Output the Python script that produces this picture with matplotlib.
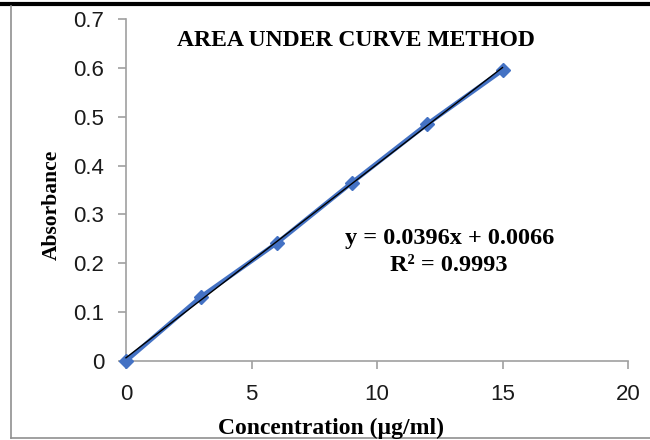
import matplotlib.pyplot as plt
from matplotlib.lines import Line2D
import numpy as np

# calibration data
conc = [0, 3, 6, 9, 12, 15]
absorb = [0.0, 0.132, 0.241, 0.365, 0.485, 0.595]
slope = 0.0396
intercept = 0.0066
xticks = [0, 5, 10, 15, 20]
yticks = [0, 0.1, 0.2, 0.3, 0.4, 0.5, 0.6, 0.7]

fig = plt.figure(figsize=(6.5, 4.4), dpi=100)
ax = fig.add_axes([126/650, 1 - 361/440, (628 - 126)/650, (361 - 19)/440])

# data line + markers
ax.plot(conc, absorb, color='#4472C4', lw=3.2, marker='D', ms=7,
        zorder=3, clip_on=False)
# linear trendline
xs = np.array([conc[0], conc[-1]])
ax.plot(xs, slope*xs + intercept, color='black', lw=1, zorder=4, clip_on=False)

ax.set_xlim(0, 20)
ax.set_ylim(0, 0.7)
ax.set_xticks(xticks)
ax.set_yticks(yticks)
ax.set_yticklabels(['0'] + ['%.1f' % v for v in yticks[1:]])

for s in ['top', 'right']:
    ax.spines[s].set_visible(False)
for s in ['left', 'bottom']:
    ax.spines[s].set_color('#A0A0A0')
    ax.spines[s].set_linewidth(1.2)
ax.tick_params(direction='out', length=5.5, width=1.2, color='#A0A0A0',
               labelsize=16, labelcolor='#1a1a1a')
ax.tick_params(axis='y', pad=10)
ax.tick_params(axis='x', pad=11)
for lab in ax.get_xticklabels() + ax.get_yticklabels():
    lab.set_family('Liberation Sans')

serif = 'Liberation Serif'
fig.text(356/650, 1 - 40/440, 'AREA UNDER CURVE METHOD', ha='center', va='center',
         family=serif, weight='bold', fontsize=17)
fig.text(450/650, 1 - 238/440, 'y = 0.0396x + 0.0066', ha='center', va='center',
         family=serif, weight='bold', fontsize=17.5)
fig.text(449/650, 1 - 265/440, 'R² = 0.9993', ha='center', va='center',
         family=serif, weight='bold', fontsize=17.5)
fig.text(331/650, 1 - 428/440, 'Concentration (µg/ml)', ha='center', va='center',
         family=serif, weight='bold', fontsize=17)
fig.text(52/650, 1 - 205/440, 'Absorbance', ha='center', va='center',
         rotation=90, family=serif, weight='bold', fontsize=15.5)

# page border pieces
fig.add_artist(Line2D([0, 1], [1 - 4/440, 1 - 4/440], color='black', lw=3,
                      transform=fig.transFigure))
fig.add_artist(Line2D([11/650, 11/650], [1 - 6/440, 1 - 438/440], color='#909090',
                      lw=1.2, transform=fig.transFigure))
fig.add_artist(Line2D([11/650, 1], [1 - 438/440, 1 - 438/440], color='#909090',
                      lw=1.2, transform=fig.transFigure))

fig.savefig('out.png', dpi=100)
